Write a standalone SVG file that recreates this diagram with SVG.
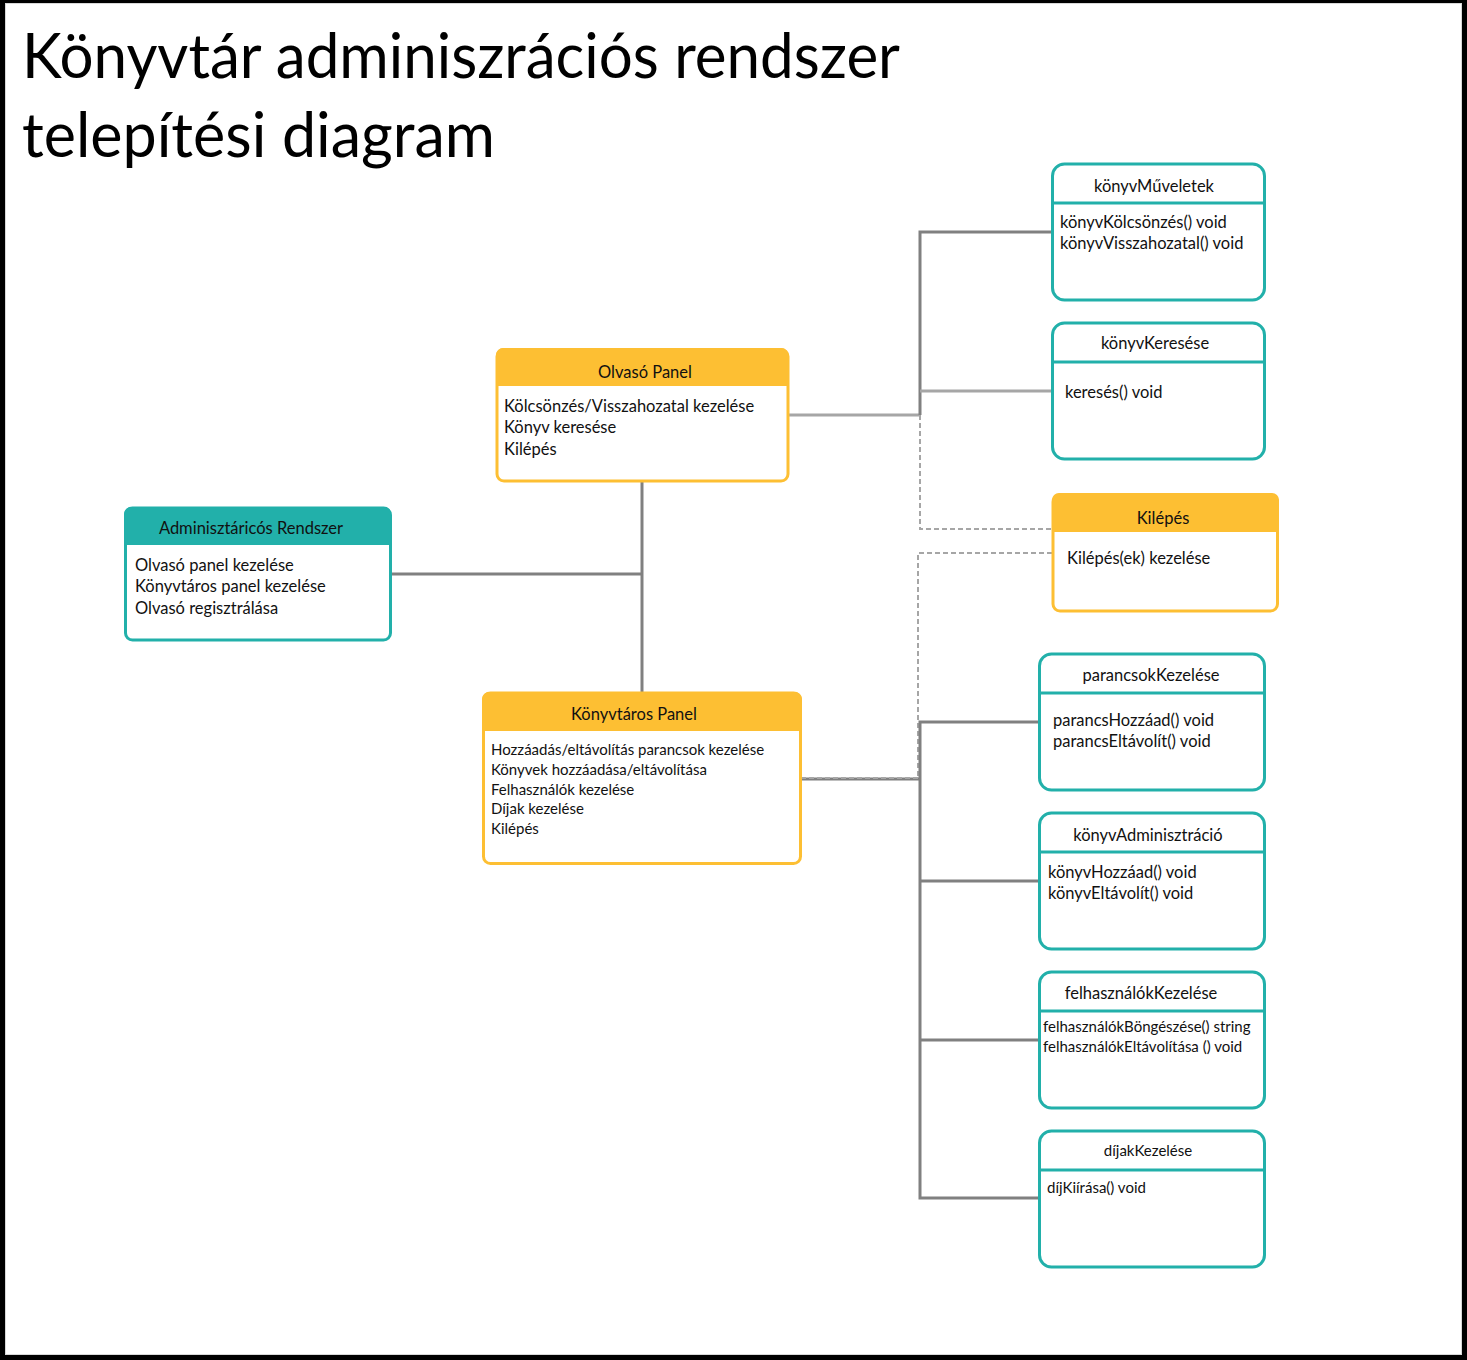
<svg xmlns="http://www.w3.org/2000/svg" width="1467" height="1360" viewBox="0 0 1467 1360">
<style>
text{font-family:Lato,"Open Sans","Noto Sans",sans-serif;fill:#111}
.title{font-size:61px;fill:#000}
.h{font-size:16.5px;text-anchor:middle}
.b{font-size:16.5px}
.s{font-size:15px}
.teal{fill:#fff;stroke:#22B0AA;stroke-width:3}
.yel{fill:#fff;stroke:#FDBF33;stroke-width:3}
.tealh{fill:#22B0AA}
.yelh{fill:#FDBF33}
.sep{stroke:#22B0AA;stroke-width:3}
.c1{stroke:#808080;stroke-width:3;fill:none}
.c2{stroke:#A6A6A6;stroke-width:3;fill:none}
.d{stroke:#A6A6A6;stroke-width:2;fill:none;stroke-dasharray:5 3}
</style>
<rect x="0" y="0" width="1467" height="1360" fill="#000"/>
<rect x="5.5" y="3.5" width="1456" height="1351" fill="#fff" stroke="#d8d8d8" stroke-width="1"/>
<text class="title" x="22" y="78" textLength="878" lengthAdjust="spacingAndGlyphs">Könyvtár adminiszrációs rendszer</text>
<text class="title" x="22" y="157" textLength="473" lengthAdjust="spacingAndGlyphs">telepítési diagram</text>

<g id="connectors">
<path class="c2" d="M788 415H920"/>
<path class="c1" d="M920 415V232H1052"/>
<path class="c2" d="M920 391H1052"/>
<path class="d" d="M920 415V529H1052"/>
<path class="d" d="M1052 553H918V779"/>
<path class="c1" d="M642 481V692"/>
<path class="c1" d="M391 574H642"/>
<path class="c1" d="M801 779H920"/>
<path class="d" d="M801 778H918"/>
<path class="c1" d="M1039 722H920V1198H1039"/>
<path class="c1" d="M920 881H1039"/>
<path class="c1" d="M920 1040H1039"/>
</g>

<g id="olvaso-panel">
<rect class="yel" x="497" y="349.5" width="291" height="131.5" rx="7"/>
<path class="yelh" d="M504 348H781A7 7 0 0 1 788 355V386H496V355A7 7 0 0 1 504 348Z"/>
<text class="h" x="645" y="378">Olvasó Panel</text>
<text class="b" x="504" y="412">Kölcsönzés/Visszahozatal kezelése</text>
<text class="b" x="504" y="433">Könyv keresése</text>
<text class="b" x="504" y="455">Kilépés</text>
</g>

<g id="adminisztracios-rendszer">
<rect class="teal" x="125.5" y="508" width="265" height="132" rx="7"/>
<path class="tealh" d="M131 507H384A7 7 0 0 1 391 514V545H124V514A7 7 0 0 1 131 507Z"/>
<text class="h" x="251" y="534">Adminisztáricós Rendszer</text>
<text class="b" x="135" y="571">Olvasó panel kezelése</text>
<text class="b" x="135" y="592">Könyvtáros panel kezelése</text>
<text class="b" x="135" y="614">Olvasó regisztrálása</text>
</g>

<g id="konyvtaros-panel">
<rect class="yel" x="483.5" y="693" width="317" height="170.5" rx="7"/>
<path class="yelh" d="M489 692H795A7 7 0 0 1 802 699V731H482V699A7 7 0 0 1 489 692Z"/>
<text class="h" x="634" y="720">Könyvtáros Panel</text>
<text class="s" x="491" y="755">Hozzáadás/eltávolítás parancsok kezelése</text>
<text class="s" x="491" y="775">Könyvek hozzáadása/eltávolítása</text>
<text class="s" x="491" y="795">Felhasználók kezelése</text>
<text class="s" x="491" y="814">Díjak kezelése</text>
<text class="s" x="491" y="834">Kilépés</text>
</g>

<g id="konyvmuveletek">
<rect class="teal" x="1052.5" y="164" width="212" height="136" rx="12"/>
<path class="sep" d="M1052 203H1265"/>
<text class="h" x="1154" y="192">könyvMűveletek</text>
<text class="b" x="1060" y="228">könyvKölcsönzés() void</text>
<text class="b" x="1060" y="249">könyvVisszahozatal() void</text>
</g>

<g id="konyvkeresese">
<rect class="teal" x="1052.5" y="323" width="212" height="136" rx="12"/>
<path class="sep" d="M1052 362H1265"/>
<text class="h" x="1155" y="349">könyvKeresése</text>
<text class="b" x="1065" y="398">keresés() void</text>
</g>

<g id="kilepes">
<rect class="yel" x="1053" y="495" width="224.5" height="116" rx="7"/>
<path class="yelh" d="M1059 493H1272A7 7 0 0 1 1279 500V532H1052V500A7 7 0 0 1 1059 493Z"/>
<text class="h" x="1163" y="524">Kilépés</text>
<text class="b" x="1067" y="564">Kilépés(ek) kezelése</text>
</g>

<g id="parancsokkezelese">
<rect class="teal" x="1039.5" y="654" width="225" height="136" rx="12"/>
<path class="sep" d="M1039 693H1265"/>
<text class="h" x="1151" y="681">parancsokKezelése</text>
<text class="b" x="1053" y="726">parancsHozzáad() void</text>
<text class="b" x="1053" y="747">parancsEltávolít() void</text>
</g>

<g id="konyvadminisztracio">
<rect class="teal" x="1039.5" y="813" width="225" height="136" rx="12"/>
<path class="sep" d="M1039 852H1265"/>
<text class="h" x="1148" y="841">könyvAdminisztráció</text>
<text class="b" x="1048" y="878">könyvHozzáad() void</text>
<text class="b" x="1048" y="899">könyvEltávolít() void</text>
</g>

<g id="felhasznalokkezelese">
<rect class="teal" x="1039.5" y="972" width="225" height="136" rx="12"/>
<path class="sep" d="M1039 1011H1265"/>
<text class="h" x="1141" y="999">felhasználókKezelése</text>
<text class="s" x="1043" y="1032">felhasználókBöngészése() string</text>
<text class="s" x="1043" y="1052">felhasználókEltávolítása () void</text>
</g>

<g id="dijakkezelese">
<rect class="teal" x="1039.5" y="1131" width="225" height="136" rx="12"/>
<path class="sep" d="M1039 1170H1265"/>
<text class="h s" x="1148" y="1156">díjakKezelése</text>
<text class="s" x="1047" y="1193">díjKiírása() void</text>
</g>
</svg>
